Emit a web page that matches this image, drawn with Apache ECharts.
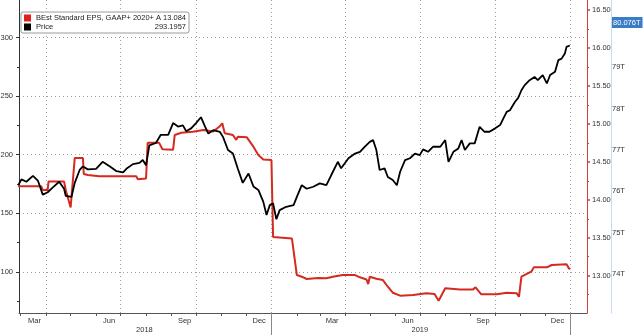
<!DOCTYPE html>
<html><head><meta charset="utf-8">
<script src="https://cdn.jsdelivr.net/npm/echarts@6/dist/echarts.min.js"></script>
<style>html,body{margin:0;padding:0;background:#fff}#c{width:644px;height:335px}</style>
</head><body><div id="c"></div>
<script>
const seriesNames = ['BEst Standard EPS, GAAP+ 2020+ A', 'Price'];
const legendValues = ['13.084', '293.1957'];

const priceDates = ['2018-02-26','2018-03-02','2018-03-08','2018-03-16','2018-03-22','2018-03-28','2018-04-03','2018-04-09','2018-04-17','2018-04-23','2018-04-25','2018-05-02','2018-05-06','2018-05-12','2018-05-16','2018-05-22','2018-06-01','2018-06-09','2018-06-18','2018-06-26','2018-07-04','2018-07-08','2018-07-16','2018-07-24','2018-07-28','2018-08-01','2018-08-05','2018-08-13','2018-08-19','2018-08-28','2018-09-03','2018-09-09','2018-09-15','2018-09-19','2018-09-25','2018-10-01','2018-10-07','2018-10-12','2018-10-16','2018-10-22','2018-10-30','2018-11-03','2018-11-09','2018-11-15','2018-11-21','2018-11-27','2018-12-04','2018-12-10','2018-12-16','2018-12-22','2018-12-26','2018-12-30','2019-01-03','2019-01-07','2019-01-11','2019-01-19','2019-01-28','2019-02-01','2019-02-07','2019-02-13','2019-02-21','2019-03-01','2019-03-09','2019-03-15','2019-03-23','2019-03-27','2019-04-05','2019-04-13','2019-04-19','2019-04-25','2019-05-01','2019-05-05','2019-05-09','2019-05-13','2019-05-19','2019-05-23','2019-05-29','2019-06-03','2019-06-07','2019-06-13','2019-06-19','2019-06-25','2019-07-01','2019-07-05','2019-07-11','2019-07-17','2019-07-26','2019-08-01','2019-08-05','2019-08-11','2019-08-17','2019-08-21','2019-08-25','2019-08-31','2019-09-06','2019-09-12','2019-09-18','2019-09-24','2019-10-01','2019-10-07','2019-10-11','2019-10-15','2019-10-19','2019-10-25','2019-10-29','2019-11-02','2019-11-06','2019-11-12','2019-11-18','2019-11-22','2019-11-28','2019-12-03','2019-12-07','2019-12-13','2019-12-17','2019-12-21','2019-12-25','2019-12-27','2019-12-31'];
const priceValues = [174,179,177,182,178,166,168,172,177,171,165,164,176,187,190,187.5,188,194,190,186,185,188,192,193,195.5,191,208,210,217,217,227,224,225,220,222.5,227,232,224,218,221,219.6,215,204,201,188,176,184,173,170,160,148.6,157,158.5,145,152.8,155.6,157,164,174,171,172.7,175.6,174,182.7,194,188.4,197,201,202.5,207,211,212.5,204,187,188.4,181,178.4,174,185.5,195.4,197,201,199.7,204.6,202.5,206.8,206.8,212.5,194,202.5,205.4,212.5,204,209.7,209.7,223.8,219.6,219.6,222.5,225.3,231,236.6,238,245,248.5,255,259.4,263.6,266.4,263.6,268,260.8,268,270.7,280.7,282,286.4,292,293.2];

const epsDates = ['2018-02-26','2018-03-26','2018-03-28','2018-04-03','2018-04-04','2018-04-23','2018-04-25','2018-05-01','2018-05-06','2018-05-16','2018-05-17','2018-05-22','2018-06-05','2018-07-20','2018-07-22','2018-08-01','2018-08-03','2018-08-17','2018-08-21','2018-09-03','2018-09-05','2018-09-13','2018-09-27','2018-10-10','2018-10-22','2018-10-30','2018-11-02','2018-11-05','2018-11-15','2018-11-19','2018-11-21','2018-12-02','2018-12-10','2018-12-16','2018-12-22','2019-01-01','2019-01-03','2019-01-05','2019-01-26','2019-02-01','2019-02-07','2019-02-13','2019-02-27','2019-03-09','2019-03-17','2019-03-29','2019-04-13','2019-04-19','2019-04-27','2019-04-29','2019-05-01','2019-05-09','2019-05-17','2019-05-23','2019-05-29','2019-06-07','2019-06-23','2019-07-09','2019-07-19','2019-07-24','2019-08-01','2019-08-19','2019-09-04','2019-09-07','2019-09-14','2019-10-03','2019-10-15','2019-10-27','2019-10-30','2019-11-02','2019-11-08','2019-11-14','2019-11-17','2019-12-03','2019-12-09','2019-12-27','2019-12-30','2019-12-31'];
const epsValues = [14.18,14.18,14.13,14.13,14.24,14.24,14.13,13.90,14.55,14.55,14.34,14.327,14.31,14.31,14.27,14.28,14.75,14.75,14.665,14.66,14.854,14.884,14.897,14.92,14.90,14.97,15.008,14.876,14.854,14.79,14.83,14.823,14.70,14.59,14.53,14.524,13.51,13.514,13.49,13.009,12.987,12.957,12.97,12.966,12.987,13.009,13.009,12.979,12.95,12.89,12.987,12.96,12.943,12.855,12.776,12.737,12.746,12.768,12.76,12.67,12.834,12.82,12.82,12.847,12.755,12.755,12.776,12.77,12.723,12.987,13.02,13.053,13.11,13.11,13.141,13.15,13.097,13.084];

const monthTickDates = ['2018-03-01','2018-04-01','2018-05-01','2018-06-01','2018-07-01','2018-08-01','2018-09-01','2018-10-01','2018-11-01','2018-12-01','2019-01-01','2019-02-01','2019-03-01','2019-04-01','2019-05-01','2019-06-01','2019-07-01','2019-08-01','2019-09-01','2019-10-01','2019-11-01','2019-12-01','2020-01-01'];
const quarterLineDates = ['2018-04-01','2018-07-01','2018-10-01','2019-01-01','2019-04-01','2019-07-01','2019-10-01','2020-01-01'];
const monthLabelDates = ['2018-03-18','2018-06-17','2018-09-17','2018-12-17','2019-03-16','2019-06-16','2019-09-16','2019-12-16'];
const monthLabels = ['Mar','Jun','Sep','Dec','Mar','Jun','Sep','Dec'];
const yearTickDates = ['2019-01-01','2020-01-01'];
const yearLabelDates = ['2018-07-30','2019-07-01'];
const yearLabels = ['2018','2019'];

const priceTicks = [100,150,200,250,300];
const priceMinorTicks = [75,125,175,225,275];
const epsTicks = [13,13.5,14,14.5,15,15.5,16,16.5];
const epsMinorTicks = [12.75,13.25,13.75,14.25,14.75,15.25,15.75,16.25];
const capTicks = [74,75,76,77,78,79];
const capLast = 80.076;

const FONT = 'Liberation Sans';
const t = s => { const p = s.split('-').map(Number); return Date.UTC(p[0], p[1]-1, p[2]); };
const X_MIN = t('2018-02-27'), X_MAX = t('2020-01-21');
const monthLabelTs = monthLabelDates.map(t);
const yearLabelTs = yearLabelDates.map(t);

const chart = echarts.init(document.getElementById('c'), null, {renderer:'canvas'});
const baseX = {type:'value', min:X_MIN, max:X_MAX, position:'bottom', gridIndex:0, scale:true};
const dotted = {color:'#a0a0a0', width:1, type:[1,3]};
const lblStyle = {fontSize:7.5, color:'#333', fontFamily:FONT};

chart.setOption({
  animation:false,
  backgroundColor:'#fff',
  textStyle:{fontFamily:FONT},
  grid:{left:19, right:57, top:0, bottom:22, containLabel:false, outerBoundsMode:'none'},
  legend:{
    orient:'vertical', left:21, top:12, itemGap:1, itemWidth:7, itemHeight:7, icon:'rect',
    padding:[2,3,2,3], borderColor:'#9a9a9a', borderWidth:1, borderRadius:2, backgroundColor:'#fff',
    data:seriesNames,
    formatter: name => '{a|' + name + '}{b|' + legendValues[seriesNames.indexOf(name)] + '}',
    textStyle:{fontSize:7.5, color:'#222', fontFamily:FONT,
      rich:{a:{width:118, fontSize:7.5, fontFamily:FONT, color:'#222'}, b:{width:32, align:'right', fontSize:7.5, fontFamily:FONT, color:'#222'}}}
  },
  xAxis:[
    Object.assign({}, baseX, {
      axisLine:{show:true, lineStyle:{color:'#555', width:1}},
      axisTick:{show:true, customValues:monthTickDates.map(t), length:3, lineStyle:{color:'#555'}},
      axisLabel:{show:true, customValues:monthLabelTs, margin:4, ...lblStyle,
        formatter:(v) => { const i = monthLabelTs.indexOf(+v); return i >= 0 ? monthLabels[i] : ''; }},
      splitLine:{show:false}
    }),
    Object.assign({}, baseX, {
      axisLine:{show:false},
      axisTick:{show:true, customValues:quarterLineDates.map(t), length:0},
      axisLabel:{show:false},
      splitLine:{show:true, lineStyle:dotted}
    }),
    Object.assign({}, baseX, {
      axisLine:{show:false},
      axisTick:{show:true, customValues:yearTickDates.map(t), length:22, lineStyle:{color:'#888'}},
      axisLabel:{show:true, customValues:yearLabelTs, margin:13, ...lblStyle,
        formatter:(v) => { const i = yearLabelTs.indexOf(+v); return i >= 0 ? yearLabels[i] : ''; }},
      splitLine:{show:false}
    })
  ],
  yAxis:[
    {type:'value', position:'left', min:65, max:332,
      axisLine:{show:true, lineStyle:{color:'#333'}},
      axisTick:{show:true, customValues:priceTicks, length:3, lineStyle:{color:'#333'}},
      axisLabel:{show:true, customValues:priceTicks, margin:6, ...lblStyle},
      splitLine:{show:true, lineStyle:dotted}},
    {type:'value', position:'right', min:12.509, max:16.632,
      axisLine:{show:true, lineStyle:{color:'#c9413a'}},
      axisTick:{show:true, customValues:epsTicks, length:3, lineStyle:{color:'#c9413a', width:1.5}},
      axisLabel:{show:true, customValues:epsTicks, margin:5, ...lblStyle, formatter:v => Number(v).toFixed(2)},
      splitLine:{show:false}},
    {type:'value', position:'right', offset:24, min:73.06, max:80.62,
      axisLine:{show:true, lineStyle:{color:'#c5dcef'}},
      axisTick:{show:false},
      axisLabel:{show:true, customValues:capTicks.concat([capLast]), margin:1, ...lblStyle,
        formatter:v => Math.abs(v - capLast) < 1e-6 ? '{hl|' + capLast.toFixed(3) + 'T}' : v + 'T',
        rich:{hl:{color:'#fff', backgroundColor:'#3b7cc6', padding:[2,2,1,1], fontSize:7.5, fontFamily:FONT}}},
      splitLine:{show:false}},
    {type:'value', position:'left', min:65, max:332,
      axisLine:{show:false}, axisLabel:{show:false}, splitLine:{show:false},
      axisTick:{show:true, customValues:priceMinorTicks, length:2, lineStyle:{color:'#333'}}},
    {type:'value', position:'right', min:12.509, max:16.632,
      axisLine:{show:false}, axisLabel:{show:false}, splitLine:{show:false},
      axisTick:{show:true, customValues:epsMinorTicks, length:2, lineStyle:{color:'#c9413a'}}}
  ],
  series:[
    {name:seriesNames[0], type:'line', xAxisIndex:0, yAxisIndex:1, showSymbol:false, symbol:'none',
      itemStyle:{color:'#e02020'}, lineStyle:{color:'#d42a1f', width:2},
      data:epsDates.map((d,i) => [t(d), epsValues[i]]), z:3},
    {name:seriesNames[1], type:'line', xAxisIndex:0, yAxisIndex:0, showSymbol:false, symbol:'none',
      itemStyle:{color:'#000'}, lineStyle:{color:'#000', width:1.8},
      data:priceDates.map((d,i) => [t(d), priceValues[i]]), z:4}
  ]
});
</script></body></html>
